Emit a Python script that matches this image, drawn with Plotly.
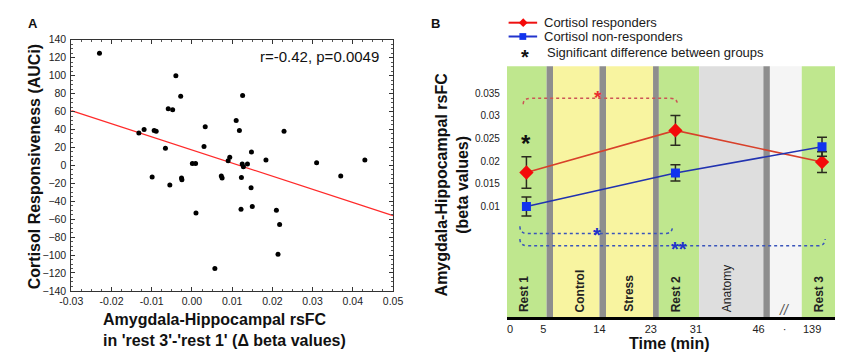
import plotly.graph_objects as go

W, H = 843, 352
FONT = "Liberation Sans, Arial, sans-serif"

# ---------------- Panel A data ----------------
delta_fc = [-0.023, -0.004, -0.0028, 0.0126, -0.0059, -0.0048, 0.011, -0.0132, -0.0119,
            -0.0094, -0.0089, 0.0033, 0.0118, 0.0229, -0.0066, 0.003, 0.0148, 0.0094,
            0.009, 0.0001, 0.0009, 0.0125, 0.0128, 0.0138, 0.0184, 0.031, 0.043, 0.037,
            -0.0099, 0.0073, 0.0075, 0.0123, -0.0026, -0.0025, -0.0055, 0.0147, 0.001,
            0.0122, 0.015, 0.021, 0.0218, 0.0214, 0.0057]
auci = [125, 100, 77, 78, 63, 62, 50, 36, 40, 39, 38, 43, 39, 38, 19, 21, 15, 9, 5, 2, 2,
        1.5, -1.5, 1.5, 6, 3, 6, -12, -13, -12, -14, -13.6, -14, -16, -22, -25, -53, -49,
        -46, -50, -66, -99, -115]
fit_x = [-0.03, 0.05]
fit_y = [61, -56]
a_xticks = [-0.03, -0.02, -0.01, 0.0, 0.01, 0.02, 0.03, 0.04, 0.05]
a_xticktext = ["-0.03", "-0.02", "-0.01", "0.00", "0.01", "0.02", "0.03", "0.04", "0.05"]
a_yticks = list(range(-140, 141, 20))

# ---------------- Panel B data ----------------
sessions = ["Rest 1", "Rest 2", "Rest 3"]
session_pos = [20, 173, 323.5]          # position on the schematic time axis
resp_mean = [0.0175, 0.0268, 0.0198]
resp_err = [0.0035, 0.0033, 0.0023]
nonresp_mean = [0.0100, 0.0174, 0.0232]
nonresp_err = [0.0021, 0.0018, 0.0021]
time_tick_labels = ["0", "5", "14", "23", "31", "46", "·", "139"]
time_tick_pos = [3.3, 37.3, 95, 147.7, 194, 258.3, 285, 313.3]
b_yticks = [0.01, 0.015, 0.02, 0.025, 0.03, 0.035]
b_yticktext = ["0.01", "0.015", "0.02", "0.025", "0.03", "0.035"]
phase_names = ["Rest 1", "Control", "Stress", "Rest 2", "Anatomy", "Rest 3"]
phase_label_pos = [17.7, 75, 125.7, 174, 226.7, 320.7]
# schematic bands: (start, end, colour)
bands = [(0, 40.7, "#bfe78e"), (40.7, 47.3, "#8e8e8e"), (47.3, 95, "#f8f4a0"),
         (95, 101.7, "#8e8e8e"), (101.7, 150, "#f8f4a0"), (150, 156, "#8e8e8e"),
         (156, 197.3, "#bfe78e"), (197.3, 263.3, "#dedede"), (263.3, 270, "#8e8e8e"),
         (270, 302.7, "#f5f5f5"), (302.7, 343, "#bfe78e")]


def px(x):
    return x / W


def py(y):
    return 1 - y / H


fig = go.Figure()

# Panel A
fig.add_trace(go.Scatter(x=fit_x, y=fit_y, mode="lines", line=dict(color="#ff2a2a", width=1.2),
                         showlegend=False, xaxis="x", yaxis="y", hoverinfo="skip"))
fig.add_trace(go.Scatter(x=delta_fc, y=auci, mode="markers",
                         marker=dict(color="black", size=5), showlegend=False,
                         xaxis="x", yaxis="y"))

# Panel B
fig.add_trace(go.Scatter(x=session_pos, y=resp_mean, mode="lines+markers", name="Cortisol responders",
                         line=dict(color="#d8402a", width=1.6),
                         marker=dict(symbol="diamond", size=11, color="#f40a0a"),
                         error_y=dict(type="data", array=resp_err, color="#2b2b1f", thickness=1.5, width=5),
                         showlegend=False, xaxis="x2", yaxis="y2"))
fig.add_trace(go.Scatter(x=session_pos, y=nonresp_mean, mode="lines+markers", name="Cortisol non-responders",
                         line=dict(color="#2233b0", width=1.6),
                         marker=dict(symbol="square", size=9, color="#1133ee"),
                         error_y=dict(type="data", array=nonresp_err, color="#2b2b1f", thickness=1.5, width=5),
                         showlegend=False, xaxis="x2", yaxis="y2"))

shapes = []
for x0, x1, c in bands:
    shapes.append(dict(type="rect", xref="x2", yref="y2 domain", x0=x0, x1=x1, y0=0, y1=1,
                       fillcolor=c, line=dict(width=0), layer="below"))


def brace(x0, x1, yl, ye, color, r=8):
    return dict(type="path", xref="x2", yref="y2",
                path=f"M {x0},{ye} Q {x0},{yl} {x0 + r},{yl} L {x1 - r},{yl} Q {x1},{yl} {x1},{ye}",
                line=dict(color=color, width=1.5, dash="dot"))


shapes.append(brace(16.7, 175, 0.0339, 0.0326, "#cc5555"))
shapes.append(brace(13.3, 170, 0.0040, 0.0056, "#3a55bb"))
shapes.append(brace(13.3, 326.7, 0.0013, 0.0028, "#3a55bb"))

# manual legend glyphs
shapes.append(dict(type="line", xref="paper", yref="paper", x0=px(501.7), x1=px(531), y0=py(9), y1=py(9),
                   line=dict(color="#ee1111", width=2)))
shapes.append(dict(type="line", xref="paper", yref="paper", x0=px(501.7), x1=px(531), y0=py(23.3), y1=py(23.3),
                   line=dict(color="#2233cc", width=2)))
dx, dy = 4.5, 4.5
cx, cy = 516.7, 9
shapes.append(dict(type="path", xref="paper", yref="paper",
                   path=f"M {px(cx - dx)},{py(cy)} L {px(cx)},{py(cy - dy)} L {px(cx + dx)},{py(cy)} L {px(cx)},{py(cy + dy)} Z",
                   fillcolor="#f40a0a", line=dict(width=0)))
cx, cy = 516.3, 23.3
shapes.append(dict(type="rect", xref="paper", yref="paper", x0=px(cx - 3.5), x1=px(cx + 3.5),
                   y0=py(cy + 3.5), y1=py(cy - 3.5), fillcolor="#1133ee", line=dict(width=0)))

ann = []


def text(x, y, t, size, xanchor="center", yanchor="middle", angle=0, color="#111", align="center",
         xref="paper", yref="paper"):
    ann.append(dict(x=x, y=y, xref=xref, yref=yref, text=t, showarrow=False, xanchor=xanchor,
                    yanchor=yanchor, textangle=angle, align=align,
                    font=dict(family=FONT, size=size, color=color)))


# Panel A texts
text(px(13), py(10), "<b>A</b>", 13)
text(px(15), py(158), "<b>Cortisol Responsiveness (AUCi)</b>", 16, angle=-90)
text(px(83), py(327), "<b>Amygdala-Hippocampal rsFC<br>in 'rest 3'-'rest 1' (Δ beta values)</b>", 16,
     xanchor="left", align="left")
text(px(371), py(44), "r=-0.42, p=0.0049", 15, xanchor="right", color="#111")

# Panel B texts
text(px(427), py(10), "<b>B</b>", 13)
text(px(444), py(176), "<b>Amygdala-Hippocampal rsFC<br>(beta values)</b>", 16, angle=-90)
text(px(667), py(341), "<b>Time (min)</b>", 16)
text(px(536), py(9), "Cortisol responders", 13, xanchor="left", color="#1a1a1a")
text(px(536), py(23.3), "Cortisol non-responders", 13, xanchor="left", color="#1a1a1a")
text(px(539), py(39.5), "Significant difference between groups", 13, xanchor="left", color="#1a1a1a")
text(px(518.3), py(45), "<b>*</b>", 20)
for name, pos in zip(phase_names, phase_label_pos):
    t = name if name == "Anatomy" else f"<b>{name}</b>"
    text(pos, py(310.5), t, 12, yanchor="bottom", angle=-90, color="#222", xref="x2")
text(20, 0.0240, "<b>*</b>", 24, xref="x2", yref="y2", color="#111")
text(93, 0.0340, "<b>*</b>", 19, xref="x2", yref="y2", color="#e83030")
text(92.7, 0.0037, "<b>*</b>", 20, xref="x2", yref="y2", color="#2233cc")
text(176.7, 0.0006, "<b>**</b>", 20, xref="x2", yref="y2", color="#2233cc")
text(285, py(306.5), "<i>//</i>", 14, xref="x2", color="#555")

tickfont = dict(family=FONT, size=10.5, color="#222")
fig.update_layout(
    width=W, height=H, margin=dict(l=0, r=0, t=0, b=0),
    paper_bgcolor="white", plot_bgcolor="white",
    showlegend=False,
    shapes=shapes, annotations=ann,
    xaxis=dict(domain=[px(52.7), px(383)], range=[-0.03, 0.05], tickvals=a_xticks, ticktext=a_xticktext,
               showline=True, linecolor="#333", linewidth=1, mirror="ticks", ticks="inside", ticklen=4,
               tickcolor="#333", showgrid=False, zeroline=False, tickfont=tickfont,
               minor=dict(dtick=0.0025, ticks="inside", ticklen=2, tickcolor="#555")),
    yaxis=dict(domain=[py(286.7), py(26.7)], range=[-140, 140], tickvals=a_yticks,
               showline=True, linecolor="#333", linewidth=1, mirror="ticks", ticks="inside", ticklen=4,
               tickcolor="#333", showgrid=False, zeroline=False, tickfont=tickfont,
               ticklabelstandoff=2,
               minor=dict(dtick=5, ticks="inside", ticklen=2, tickcolor="#555")),
    xaxis2=dict(domain=[px(500), 1.0], range=[0, 343], tickvals=time_tick_pos, ticktext=time_tick_labels,
                showline=True, linecolor="black", linewidth=2.5, ticks="", showgrid=False, zeroline=False,
                tickfont=dict(family=FONT, size=11, color="#222"), anchor="y2"),
    yaxis2=dict(domain=[py(314), py(54)], range=[-0.0145, 0.041], tickvals=b_yticks, ticktext=b_yticktext,
                showline=False, ticks="", showgrid=False, zeroline=False, anchor="x2",
                tickfont=dict(family=FONT, size=10, color="#222"), ticklabelstandoff=6),
)

fig.write_html("out.html")
